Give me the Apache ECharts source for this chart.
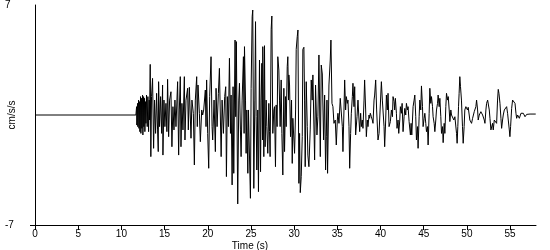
<!DOCTYPE html>
<html>
<head>
<meta charset="utf-8">
<script src="https://cdn.jsdelivr.net/npm/echarts@6/dist/echarts.min.js"></script>
<style>
html,body{margin:0;padding:0;background:#fff;}
#chart{width:550px;height:250px;}
</style>
</head>
<body>
<div id="chart"></div>
<script>
// Time (s) / acceleration (cm/s/s) pairs read from the record
const preEvent = [[0, 0], [11.68, 0]];

const onsetPhase = [
  [11.76,0.53],[11.79,-0.64],[11.87,0.74],[11.90,-0.74],[11.99,0.95],[12.03,-0.85],[12.10,0.85],[12.14,-1.06],
  [12.22,1.17],[12.26,-1.17],[12.33,1.06],[12.37,-0.85],[12.45,1.27],[12.49,-1.27],[12.57,1.17],[12.60,-0.74],
  [12.68,1.06],[12.72,-1.06],[12.80,0.85],[12.84,-0.53],[12.91,1.27],[12.99,-0.74],[13.07,1.17],[13.15,-1.06],
  [13.22,0.95],[13.26,-0.32],[13.34,3.22],[13.41,-2.65],[13.49,1.17],[13.61,2.33],[13.73,-2.12],[13.84,0.95],
  [13.96,-1.17],[14.08,1.38],[14.19,-0.95],[14.27,-2.33],[14.31,2.12],[14.42,-0.74],[14.54,1.17],[14.66,-1.17],
  [14.77,1.91],[14.81,-2.55],[14.93,0.95],[15.04,-0.74],[15.16,0.74],[15.27,-1.06],[15.35,2.27],[15.47,-1.38],
  [15.58,0.95],[15.74,1.48],[15.85,-2.02],[15.97,0.53],[16.09,-0.95],[16.20,0.95],[16.32,-0.74],[16.51,2.12],
  [16.63,-2.55],[16.71,0.32],[16.82,2.44],[16.90,-2.02],[17.01,0.74],[17.13,-0.95],[17.29,2.44],[17.36,-1.59],
  [17.48,0.95],[17.67,1.70],[17.75,-0.95],[17.87,1.76],[18.06,-1.48],[18.17,0.95],[18.33,0.11],[18.45,-3.18],
  [18.56,0.95],[18.72,2.44],[18.79,-0.74],[18.87,1.91],[19.03,0.11],[19.14,-1.70],[19.30,0.32],[19.41,0],
  [19.53,0.32],[19.72,1.59],[19.80,-0.74],[19.87,2.23],[19.99,-1.17],[20.11,-3.39],[20.22,1.17],[20.38,3.71],
  [20.50,-0.74],[20.57,-1.59],[20.73,0.95],[20.88,-2.33],[20.96,1.70],[21.08,-0.74],[21.23,1.38],[21.35,2.97],
  [21.55,-2.65],[21.66,0.95],[21.81,-1.17],[21.96,1.17],[22.08,1.80],[22.16,-3.92],[22.27,1.17],[22.39,-0.74],
  [22.51,3.61],[22.63,-1.17],[22.70,1.27],[22.82,-4.45],[22.93,1.80],[23.01,-3.71],[23.16,4.77],[23.24,-0.11],
  [23.31,4.67],[23.47,-5.66],[23.59,0.95],[23.67,2.02],[23.78,-0.95],[23.86,-2.65],[23.98,0.95],[24.13,3.71],
  [24.21,-1.17],[24.25,4.35],[24.37,0.95],[24.44,-2.44],[24.52,0.32],[24.64,-3.71],[24.71,0.32]
];

const strongPhase = [
  [24.94,-5.30],[25.02,1.70],[25.14,6.26],[25.21,6.68],[25.33,-4.67],[25.45,0.95],[25.53,5.94],[25.60,-0.11],
  [25.68,-3.50],[25.79,0.32],[25.87,-4.88],[25.99,3.50],[26.11,-3.61],[26.18,0.95],[26.26,3.29],[26.34,-1.59],
  [26.37,4.35],[26.49,-2.65],[26.57,4.41],[26.64,-2.02],[26.76,0.95],[26.84,-0.74],[26.95,-2.44],[27.07,0.74],
  [27.15,-1.06],[27.22,-2.65],[27.34,5.45],[27.42,6.30],[27.53,-1.17],[27.65,0.32],[27.73,0.53],[27.84,-3.29],
  [27.92,0.64],[28.03,-0.74],[28.11,3.71],[28.23,2.86],[28.31,0.95],[28.38,-0.74],[28.50,2.23],[28.58,-1.17],
  [28.69,-3.82],[28.81,1.70],[28.89,-2.33],[29.00,1.17],[29.08,-0.74],[29.20,3.08],[29.27,3.71],[29.35,0.95],
  [29.39,2.55],[29.47,1.91],[29.58,-1.38],[29.70,0.95],[29.78,-3.08],[29.85,-0.21],[30.05,-2.44],[30.17,0.32],
  [30.24,4.18],[30.36,4.99],[30.44,5.41],[30.55,-4.35],[30.63,-1.17],[30.71,-4.94],[30.82,-3.92],[30.94,-1.38],
  [31.01,4.18],[31.13,4.31],[31.21,0.95],[31.28,-3.29],[31.40,2.12],[31.52,-0.74],[31.59,-2.55],[31.71,-3.29],
  [31.86,-0.95],[31.98,2.23],[32.09,0.95],[32.17,2.55],[32.37,-2.86],[32.48,1.91],[32.64,-1.27],[32.75,-0.11],
  [32.87,3.82],[33.03,-2.65],[33.14,3.18],[33.26,2.61],[33.41,-1.59],[33.53,1.27],[33.64,-3.50],[33.72,-1.38],
  [33.80,0.95],[33.87,-3.71],[34.03,1.91],[34.18,3.50],[34.26,4.77],[34.38,0.74],[34.49,0.53],[34.61,-0.53],
  [34.76,-0.32],[34.88,-1.91],[35.00,-0.32],[35.07,0.11],[35.19,-0.53],[35.34,1.06],[35.46,0.95],[35.58,-0.74],
  [35.65,-2.33],[35.77,0.32],[35.85,2.23],[35.96,0.32],[36.04,1.17],[36.16,0.74],[36.23,0.95],[36.35,-0.74],
  [36.43,-3.39],[36.54,-1.17],[36.62,0.11],[36.74,1.17],[36.81,2.02],[36.93,0.53],[37.01,1.80],[37.12,-1.27],
  [37.28,-0.11],[37.39,0.95],[37.51,-0.32],[37.59,-1.06],[37.70,0.11],[37.78,-0.74],[37.89,-0.32],[37.97,-0.85],
  [38.09,0.95],[38.16,2.23],[38.28,0.32],[38.36,-1.38],[38.47,-0.32],[38.55,-0.74],[38.67,0],[38.74,-0.21],
  [38.82,0.11],[38.94,-0.11],[39.05,-0.32],[39.13,-0.53],[39.25,0.95],[39.32,1.27],[39.44,2.23],[39.55,0.32],
  [39.71,-1.59],[39.83,-1.17]
];

const codaPhase = [
  [39.91,-1.27],[40.10,2.12],[40.21,0.95],[40.29,0.85],[40.41,-0.74],[40.48,-2.02],[40.60,-0.32],[40.68,1.27],
  [40.79,0.32],[40.87,1.38],[40.99,-0.74],[41.14,-0.42],[41.26,0.32],[41.38,-0.11],[41.45,1.17],[41.57,0.85],
  [41.64,0.32],[41.72,1.06],[41.84,0.11],[41.91,-0.85],[42.03,-0.32],[42.11,-1.17],[42.23,-0.32],[42.30,0.53],
  [42.42,0.11],[42.50,0.74],[42.61,-1.06],[42.73,-0.11],[42.81,0.42],[42.92,0],[43.00,0.74],[43.12,0.32],
  [43.19,0.53],[43.31,-0.42],[43.46,-1.27],[43.54,-0.53],[43.62,-1.27],[43.77,0.53],[43.89,0.95],[43.97,1.27],
  [44.08,-0.11],[44.16,-1.59],[44.28,-0.74],[44.35,-2.12],[44.47,-0.11],[44.55,0.95],[44.66,0.32],[44.74,1.85],
  [44.86,0.53],[44.93,-0.74],[45.05,-0.21],[45.13,0.11],[45.24,-0.53],[45.32,-1.06],[45.44,-0.74],[45.51,-1.91],
  [45.63,0.11],[45.71,1.70],[45.82,0.74],[45.90,1.17],[46.02,0.53],[46.09,-0.11],[46.21,-0.53],[46.29,-1.06],
  [46.40,-0.32],[46.48,0.32],[46.60,0.74],[46.67,1.27],[46.79,0.53],[46.87,1.06],[46.98,-0.11],[47.06,-1.17],
  [47.18,-0.74],[47.25,-1.76],[47.37,-0.53],[47.45,-1.17],[47.56,0.53],[47.64,1.38],[47.76,0.95],[47.84,1.17],
  [47.95,0.32],[48.03,-0.42],[48.14,0.32],[48.22,0],[48.34,0.11],[48.41,-0.11],[48.49,-0.32],[48.61,-0.11],
  [48.72,0],[48.80,-1.17],[48.87,-1.80],[48.95,-0.74],[49.03,0.53],[49.10,1.38],[49.18,2.44],[49.26,1.80],
  [49.37,0.95],[49.49,-0.74],[49.57,-1.80],[49.68,-0.74],[49.76,0.32],[49.88,0.53],[49.95,0.64],[50.07,0.32],
  [50.15,0.49],[50.27,0],[50.34,-0.32],[50.46,-0.42],[50.54,-0.53],[50.66,-0.21],[50.73,-0.11],[50.85,0.21],
  [50.93,0.11],[51.04,0.53],[51.12,0.95],[51.24,0.32],[51.31,-0.32],[51.43,0],[51.50,0],[51.62,0.21],
  [51.70,0.21],[51.82,0],[51.89,-0.11],[52.01,-0.32],[52.09,-0.53],[52.20,0.32],[52.28,0.74],[52.40,0.95],
  [52.47,1.06],[52.59,0.32],[52.67,-0.21],[52.78,-0.95],[52.86,-0.95],[52.97,-0.53],[53.05,-0.95],[53.17,-0.32],
  [53.24,-0.32],[53.36,-0.42],[53.44,-0.53],[53.55,0.95],[53.63,1.63],[53.71,1.38],[53.83,0.74],[53.94,-0.21],
  [54.02,-0.85],[54.13,-0.32],[54.21,0],[54.33,0.32],[54.40,0.42],[54.52,0.32],[54.60,0.53],[54.71,0.11],
  [54.79,-0.32],[54.91,-0.95],[54.98,-1.38],[55.06,-0.74],[55.18,0.42],[55.29,0.95],[55.37,1.00],[55.49,0.85],
  [55.57,0.74],[55.68,0.11],[55.76,-0.21],[55.87,0],[55.95,0.11],[56.07,-0.21],[56.15,-0.11],[56.26,0.11],
  [56.34,0.21],[56.46,0.21],[56.53,0.11],[56.65,0],[56.73,-0.11],[56.84,0],[56.92,0.04],[57.11,0.04],
  [57.31,0.06],[57.97,0.06]
];

const xTicks = [0, 5, 10, 15, 20, 25, 30, 35, 40, 45, 50, 55];
const yTicks = [-7, 7];
const xTitle = 'Time (s)';
const yTitle = 'cm/s/s';

const record = preEvent.concat(onsetPhase, strongPhase, codaPhase);

const FONT = 'Liberation Sans';
const chart = echarts.init(document.getElementById('chart'), null, {renderer: 'canvas'});
chart.setOption({
  animation: false,
  backgroundColor: '#ffffff',
  grid: {left: 35, right: 14, top: 5, bottom: 25, containLabel: false},
  xAxis: {
    type: 'value',
    position: 'bottom',
    min: 0, max: 58, interval: 5,
    axisLine: {show: true, onZero: false, lineStyle: {color: '#000', width: 1}},
    axisTick: {show: true, length: 5, inside: false, customValues: xTicks, lineStyle: {color: '#000'}},
    axisLabel: {show: true, customValues: xTicks, margin: 4, color: '#000', fontFamily: FONT, fontSize: 10},
    splitLine: {show: false}
  },
  yAxis: {
    type: 'value',
    position: 'left',
    min: -7, max: 7, interval: 14,
    axisLine: {show: true, onZero: false, lineStyle: {color: '#000', width: 1}},
    axisTick: {show: true, length: 5, customValues: [-7], lineStyle: {color: '#000'}},
    axisLabel: {show: true, customValues: yTicks, margin: 30, align: 'left', color: '#000', fontFamily: FONT, fontSize: 10},
    splitLine: {show: false}
  },
  graphic: [
    {type: 'text', x: 250, y: 246, style: {text: xTitle, fill: '#000', font: '10px "Liberation Sans"', align: 'center', verticalAlign: 'middle'}},
    {type: 'text', x: 12, y: 115, rotation: Math.PI / 2, style: {text: yTitle, fill: '#000', font: '10px "Liberation Sans"', align: 'center', verticalAlign: 'middle'}}
  ],
  series: [{
    type: 'line',
    data: record,
    showSymbol: false,
    symbol: 'none',
    lineStyle: {color: '#000', width: 1},
    silent: true,
    clip: true
  }]
});
</script>
</body>
</html>
